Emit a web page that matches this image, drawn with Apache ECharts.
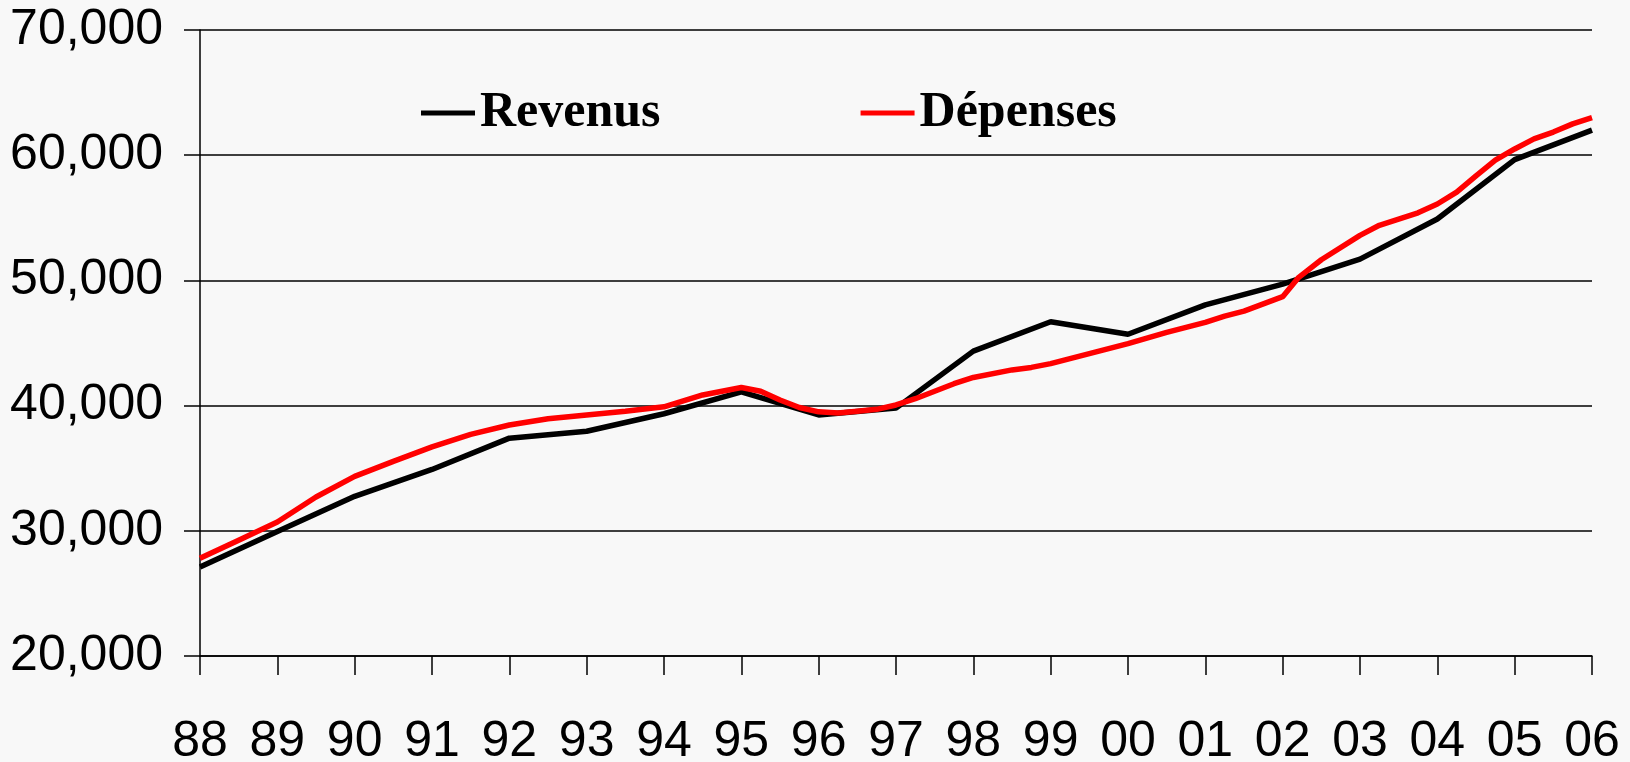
<!DOCTYPE html>
<html>
<head>
<meta charset="utf-8">
<title>Revenus et dépenses</title>
<script src="https://cdn.jsdelivr.net/npm/echarts@6/dist/echarts.min.js"></script>
<style>
  html, body { margin: 0; padding: 0; background: #f8f8f8; }
  #chart { width: 1630px; height: 762px; }
</style>
</head>
<body>
<div id="chart"></div>
<script>
// annual revenue (one point per year)
const revenusYears = [1988, 1989, 1990, 1991, 1992, 1993, 1994, 1995, 1996, 1997,
  1998, 1999, 2000, 2001, 2002, 2003, 2004, 2005, 2006]
const revenusValues = [27100, 29950, 32750, 34900, 37400, 37950, 39350, 41100, 39250, 39800,
  44350, 46700, 45700, 48050, 49700, 51700, 54900, 59650, 62000]

// spending is drawn at a finer step (about quarterly)
const depensesYears = [1988, 1988.5, 1989, 1989.5, 1990, 1990.5, 1991, 1991.5, 1992, 1992.5,
  1993, 1993.5, 1994, 1994.5, 1995, 1995.25, 1995.5, 1995.75, 1996, 1996.25,
  1996.5, 1996.75, 1997, 1997.25, 1997.5, 1997.75, 1998, 1998.5, 1998.75, 1999,
  1999.5, 2000, 2000.5, 2001, 2001.25, 2001.5, 2002, 2002.2, 2002.5, 2003,
  2003.25, 2003.75, 2004, 2004.25, 2004.5, 2004.75, 2005, 2005.25, 2005.5, 2005.75, 2006]
const depensesValues = [27800, 29250, 30700, 32700, 34350, 35550, 36700, 37700, 38450, 38950,
  39250, 39550, 39900, 40850, 41450, 41150, 40450, 39850, 39500, 39400,
  39550, 39700, 40050, 40550, 41150, 41750, 42250, 42850, 43050, 43350,
  44150, 44950, 45850, 46650, 47150, 47550, 48700, 50200, 51650, 53600,
  54400, 55400, 56100, 57050, 58350, 59600, 60500, 61300, 61850, 62500, 63000]

const yTicks = { min: 20000, max: 70000, step: 10000 }

const chart = echarts.init(document.getElementById('chart'))

const pairs = (xs, ys) => xs.map((x, i) => [x, ys[i]])

const option = {
  animation: false,
  backgroundColor: '#f8f8f8',
  grid: {
    left: 200,
    right: 38,
    top: 30,
    bottom: 106,
    containLabel: false,
    outerBoundsMode: 'none'
  },
  legend: {
    left: 416,
    top: 83,
    icon: 'rect',
    itemWidth: 54,
    itemHeight: 5,
    itemGap: 200,
    textStyle: {
      fontFamily: 'Liberation Serif',
      fontWeight: 'bold',
      fontSize: 50,
      color: '#000'
    },
    data: ['Revenus', 'Dépenses']
  },
  xAxis: {
    type: 'value',
    min: 1988,
    max: 2006,
    interval: 1,
    axisLine: { lineStyle: { color: '#000', width: 1.5 } },
    axisTick: { length: 19, lineStyle: { color: '#000', width: 1.5 } },
    splitLine: { show: false },
    axisLabel: {
      margin: 61,
      fontFamily: 'Liberation Sans',
      fontSize: 50,
      color: '#000',
      formatter: (v) => String(v % 100).padStart(2, '0')
    }
  },
  yAxis: {
    type: 'value',
    min: yTicks.min,
    max: yTicks.max,
    interval: yTicks.step,
    axisLine: { show: true, lineStyle: { color: '#000', width: 1.5 } },
    axisTick: { show: true, length: 16, lineStyle: { color: '#000', width: 1.5 } },
    splitLine: { lineStyle: { color: '#000', width: 1.5 } },
    axisLabel: {
      margin: 37,
      fontFamily: 'Liberation Sans',
      fontSize: 50,
      color: '#000',
      formatter: (v) => v.toLocaleString('en-US')
    }
  },
  series: [
    {
      name: 'Revenus',
      type: 'line',
      data: pairs(revenusYears, revenusValues),
      showSymbol: false,
      itemStyle: { color: '#000' },
      lineStyle: { color: '#000', width: 5.5 }
    },
    {
      name: 'Dépenses',
      type: 'line',
      data: pairs(depensesYears, depensesValues),
      showSymbol: false,
      itemStyle: { color: '#ff0000' },
      lineStyle: { color: '#ff0000', width: 5.5 }
    }
  ]
}

chart.setOption(option)
</script>
</body>
</html>
